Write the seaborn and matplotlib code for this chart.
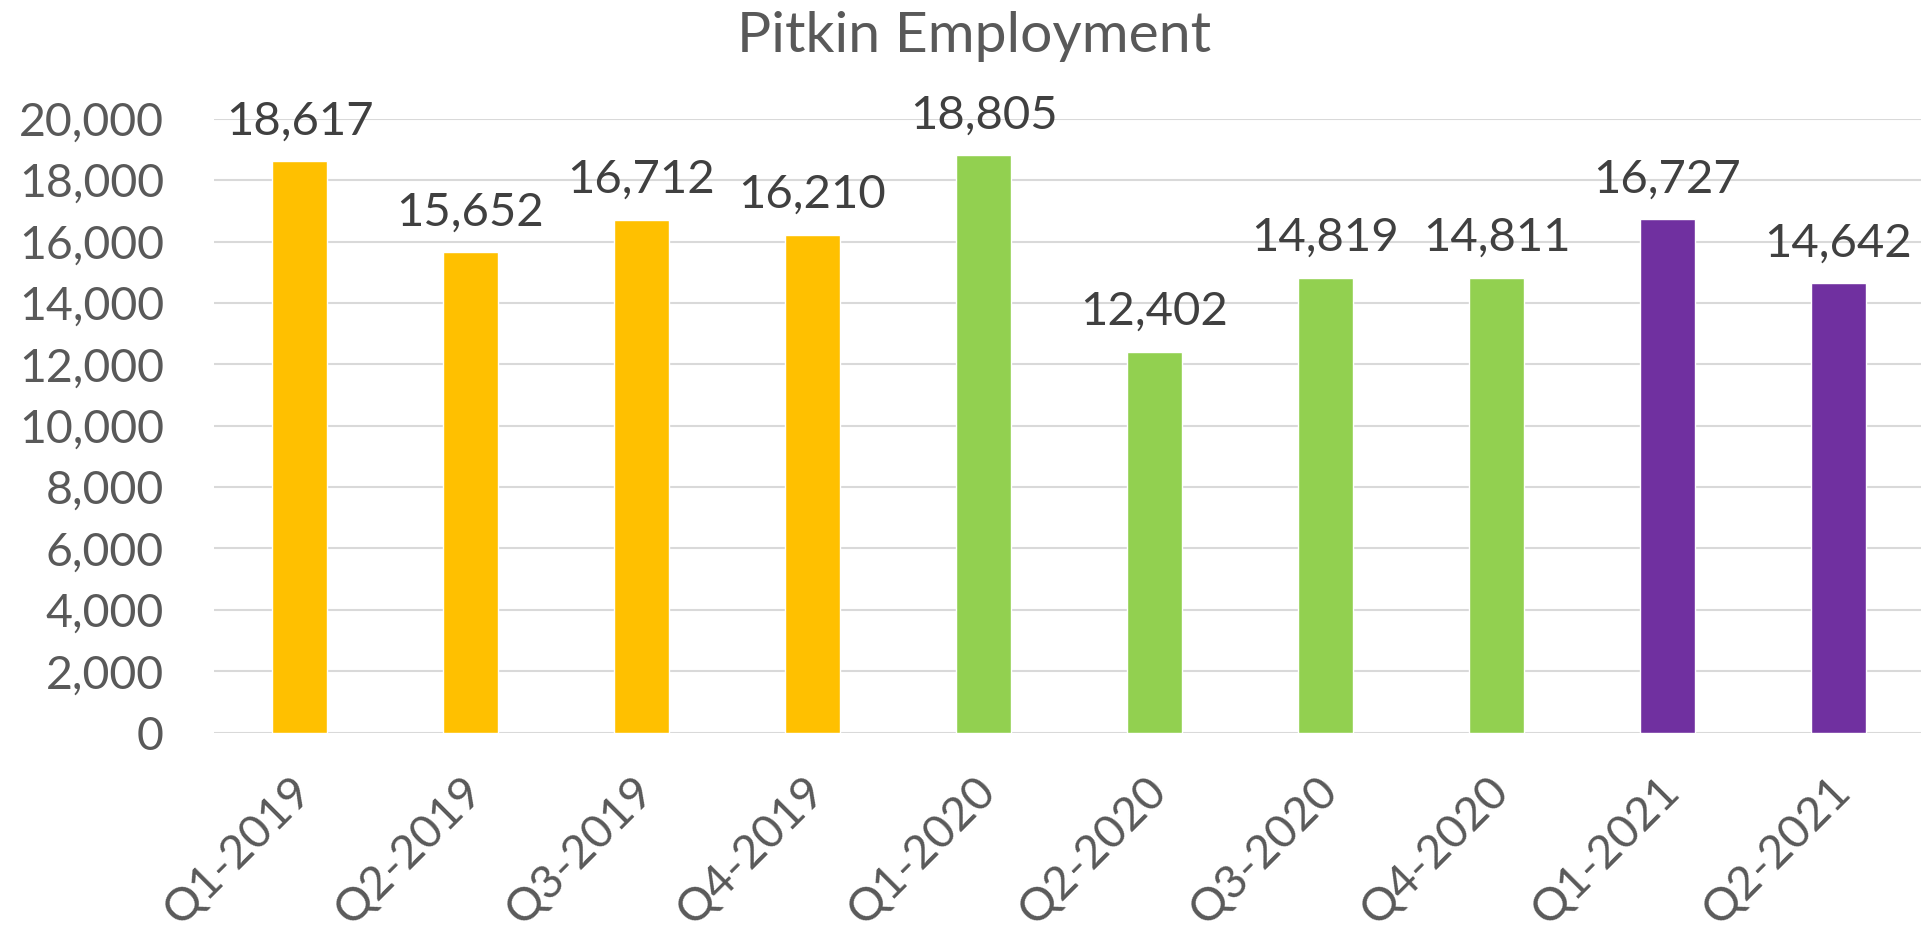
import numpy as np
import pandas as pd
import matplotlib
matplotlib.use("Agg")
import matplotlib.pyplot as plt
import matplotlib.transforms as mtransforms
import seaborn as sns


quarters = ["Q1-2019", "Q2-2019", "Q3-2019", "Q4-2019",
            "Q1-2020", "Q2-2020", "Q3-2020", "Q4-2020",
            "Q1-2021", "Q2-2021"]
employment = [18617, 15652, 16712, 16210,
              18805, 12402, 14819, 14811,
              16727, 14642]
year = ["2019", "2019", "2019", "2019",
        "2020", "2020", "2020", "2020",
        "2021", "2021"]
year_colors = {"2019": "#FFC000", "2020": "#92D050", "2021": "#7030A0"}
y_ticks = [0, 2000, 4000, 6000, 8000, 10000, 12000, 14000, 16000, 18000, 20000]

df = pd.DataFrame({"quarter": quarters, "employment": employment, "year": year})

sns.set_theme(style="white")
plt.rcParams["font.family"] = ["Lato", "DejaVu Sans"]

fig = plt.figure(figsize=(19.21, 9.32), dpi=100)
ax = fig.add_axes([214 / 1921, 199.4 / 932, 1710 / 1921, 613.8 / 932])

sns.barplot(data=df, x="quarter", y="employment", hue="year",
            palette=year_colors, dodge=False, width=0.316,
            legend=False, saturation=1, ax=ax)

ax.set_xlim(-0.5, 9.5)
ax.set_ylim(0, 20000)
ax.set_yticks(y_ticks)
ax.set_yticklabels([f"{v:,}" for v in y_ticks])
ax.yaxis.grid(True, color="#D9D9D9", linewidth=1.5)
ax.set_axisbelow(True)
for s in ax.spines.values():
    s.set_visible(False)
ax.set_xlabel("")
ax.set_ylabel("")
ax.tick_params(axis="y", length=0, pad=36, labelsize=33.5, labelcolor="#595959")
ax.tick_params(axis="x", length=0, pad=26, labelsize=33.5, labelcolor="#595959")

# shift rotated labels so their upper end sits just right of the bar centre
offset = mtransforms.ScaledTranslation(-10 / 100, 0, fig.dpi_scale_trans)
for lab in ax.get_xticklabels():
    lab.set_rotation(45)
    lab.set_ha("right")
    lab.set_va("top")
    lab.set_rotation_mode("anchor")
    lab.set_transform(lab.get_transform() + offset)

for i, v in enumerate(employment):
    ax.annotate(f"{v:,}", (i, v), xytext=(0, 19.4), textcoords="offset points",
                ha="center", va="baseline", fontsize=34, color="#404040",
                annotation_clip=False)

fig.text(974 / 1921, 1 - 52 / 932, "Pitkin Employment", ha="center",
         va="baseline", fontsize=41, color="#595959")

fig.savefig("out.png", dpi=100)
